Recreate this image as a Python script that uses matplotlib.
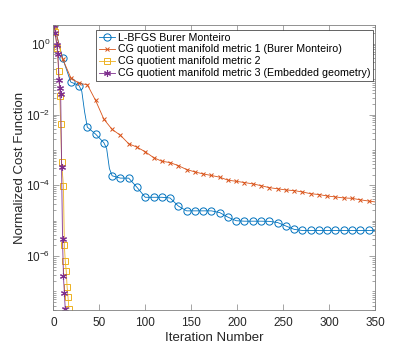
import numpy as np
import matplotlib
matplotlib.use("Agg")
import matplotlib.pyplot as plt
from matplotlib.ticker import FixedLocator, LogLocator, NullFormatter, NullLocator

plt.rcParams["font.family"] = ["Liberation Sans", "DejaVu Sans"]
plt.rcParams["mathtext.fontset"] = "custom"
plt.rcParams["mathtext.rm"] = "Liberation Sans"
plt.rcParams["mathtext.it"] = "Liberation Sans"

# L-BFGS Burer Monteiro
it_lbfgs = [1, 10, 19, 28, 31, 34, 37, 46, 55, 58, 61, 64, 73, 82, 91, 100, 109, 118,
            127, 136, 145, 154, 163, 172, 181, 190, 199, 208, 217, 226, 235, 244, 253,
            262, 271, 280, 289, 298, 307, 316, 325, 334, 343, 350]
val_lbfgs = [3.3, 0.40, 0.083, 0.066, 0.045, 0.012, 0.0044, 0.0028, 0.0016, 0.0011, 3.0e-4,
             1.86e-4, 1.6e-4, 1.6e-4, 8.8e-5, 4.6e-5, 4.6e-5, 4.6e-5, 4.4e-5, 2.6e-5,
             1.9e-5, 1.9e-5, 1.9e-5, 1.9e-5, 1.7e-5, 1.26e-5, 1.0e-5, 9.7e-6, 9.7e-6,
             9.7e-6, 9.6e-6, 8.9e-6, 7.1e-6, 5.7e-6, 5.3e-6, 5.3e-6, 5.3e-6, 5.3e-6,
             5.3e-6, 5.3e-6, 5.3e-6, 5.3e-6, 5.3e-6, 5.3e-6]

# CG metric 1
it_cg1 = [1, 10, 19, 28, 37, 46, 55, 64, 73, 82, 91, 100, 109, 118, 127, 136, 145, 154,
          163, 172, 181, 190, 199, 208, 217, 226, 235, 244, 253, 262, 271, 280, 289, 298,
          307, 316, 325, 334, 343, 350]
val_cg1 = [3.3, 0.38, 0.11, 0.076, 0.070, 0.025, 0.0074, 0.0038, 0.0026, 0.0015, 0.0012,
           8.9e-4, 6.1e-4, 4.8e-4, 4.4e-4, 3.6e-4, 2.8e-4, 2.4e-4, 2.1e-4, 1.9e-4, 1.7e-4,
           1.4e-4, 1.3e-4, 1.2e-4, 1.1e-4, 9.8e-5, 8.6e-5, 8.0e-5, 7.4e-5, 7.1e-5, 6.5e-5,
           5.8e-5, 5.5e-5, 5.0e-5, 4.7e-5, 4.4e-5, 4.3e-5, 3.9e-5, 3.6e-5, 3.4e-5]

# CG metric 2
it_cg2 = [1, 2, 4, 6, 7, 8, 9, 11, 12, 13, 14, 15, 16, 17]
val_cg2 = [3.3, 2.1, 0.75, 0.17, 0.033, 0.0053, 4.5e-4, 9.6e-5, 2.0e-6, 7.1e-7, 3.9e-7,
           1.35e-7, 6.8e-8, 3.3e-8]

# CG metric 3
it_cg3 = [1, 2, 4, 5, 6, 7, 8, 9, 10, 11, 12, 13]
val_cg3 = [3.3, 2.0, 0.9, 0.5, 0.097, 0.058, 0.039, 3.2e-4, 3.1e-6, 2.8e-7, 9.1e-8, 3.1e-8]

labels = ["L-BFGS Burer Monteiro",
          "CG quotient manifold metric 1 (Burer Monteiro)",
          "CG quotient manifold metric 2",
          "CG quotient manifold metric 3 (Embedded geometry)"]
colors = ["#0072BD", "#D95319", "#EDB120", "#7E2F8E"]

marker_iters = set(range(1, 351, 9))


def marks(its):
    return [i for i, v in enumerate(its) if v in marker_iters]


fig = plt.figure(figsize=(4.15, 3.48), dpi=100)
ax = fig.add_axes([0.1285, 0.1092, 0.7751, 0.8190])

ax.plot(it_lbfgs, val_lbfgs, "-", color=colors[0], lw=0.6, marker="o", ms=5.2,
        mfc="none", mew=0.7, markevery=marks(it_lbfgs), label=labels[0])
ax.plot(it_cg1, val_cg1, "-", color=colors[1], lw=0.6, marker="x", ms=3.5,
        mew=0.7, markevery=marks(it_cg1), label=labels[1])
ax.plot(it_cg2, val_cg2, "-", color=colors[2], lw=0.6, marker="s", ms=4.5,
        mfc="none", mew=0.7, label=labels[2])
ax.plot(it_cg3, val_cg3, "-", color=colors[3], lw=0.6, marker=(6, 2, 0), ms=5,
        mew=0.8, label=labels[3])

ax.set_yscale("log")
ax.set_xlim(0, 350)
ax.set_ylim(3.0e-8, 3.4)
ax.set_xticks(np.arange(0, 351, 50))
ax.xaxis.set_minor_locator(NullLocator())
ax.yaxis.set_major_locator(FixedLocator([1e-6, 1e-4, 1e-2, 1e0]))
ax.set_yticklabels(["10$^{-6}$", "10$^{-4}$", "10$^{-2}$", "10$^{0}$"])
ax.yaxis.set_minor_locator(LogLocator(base=10, subs=np.arange(1, 10), numticks=30))
ax.yaxis.set_minor_formatter(NullFormatter())

axc = "#262626"
for s in ax.spines.values():
    s.set_color("#808080")
    s.set_linewidth(0.6)
ax.tick_params(which="both", direction="in", top=True, right=True, colors="#808080",
               labelcolor=axc, labelsize=8.5, width=0.5)
ax.tick_params(which="major", length=4)
ax.tick_params(which="minor", length=2)
ax.tick_params(axis="x", pad=5)
ax.tick_params(axis="y", pad=2)

ax.set_xlabel("Iteration Number", fontsize=9.5, color=axc, labelpad=2)
ax.set_ylabel("Normalized Cost Function", fontsize=9.5, color=axc, labelpad=0)

leg = ax.legend(loc="upper right", bbox_to_anchor=(0.995, 0.983), borderaxespad=0,
                fontsize=7.7, handlelength=1.5, handletextpad=0.3, borderpad=0.25,
                labelspacing=0.18, fancybox=False, framealpha=1, numpoints=1)
leg.get_frame().set_edgecolor("#262626")
leg.get_frame().set_linewidth(0.5)
for h in leg.legend_handles:
    h.set_markevery([1])

fig.savefig("out.png", dpi=100)
